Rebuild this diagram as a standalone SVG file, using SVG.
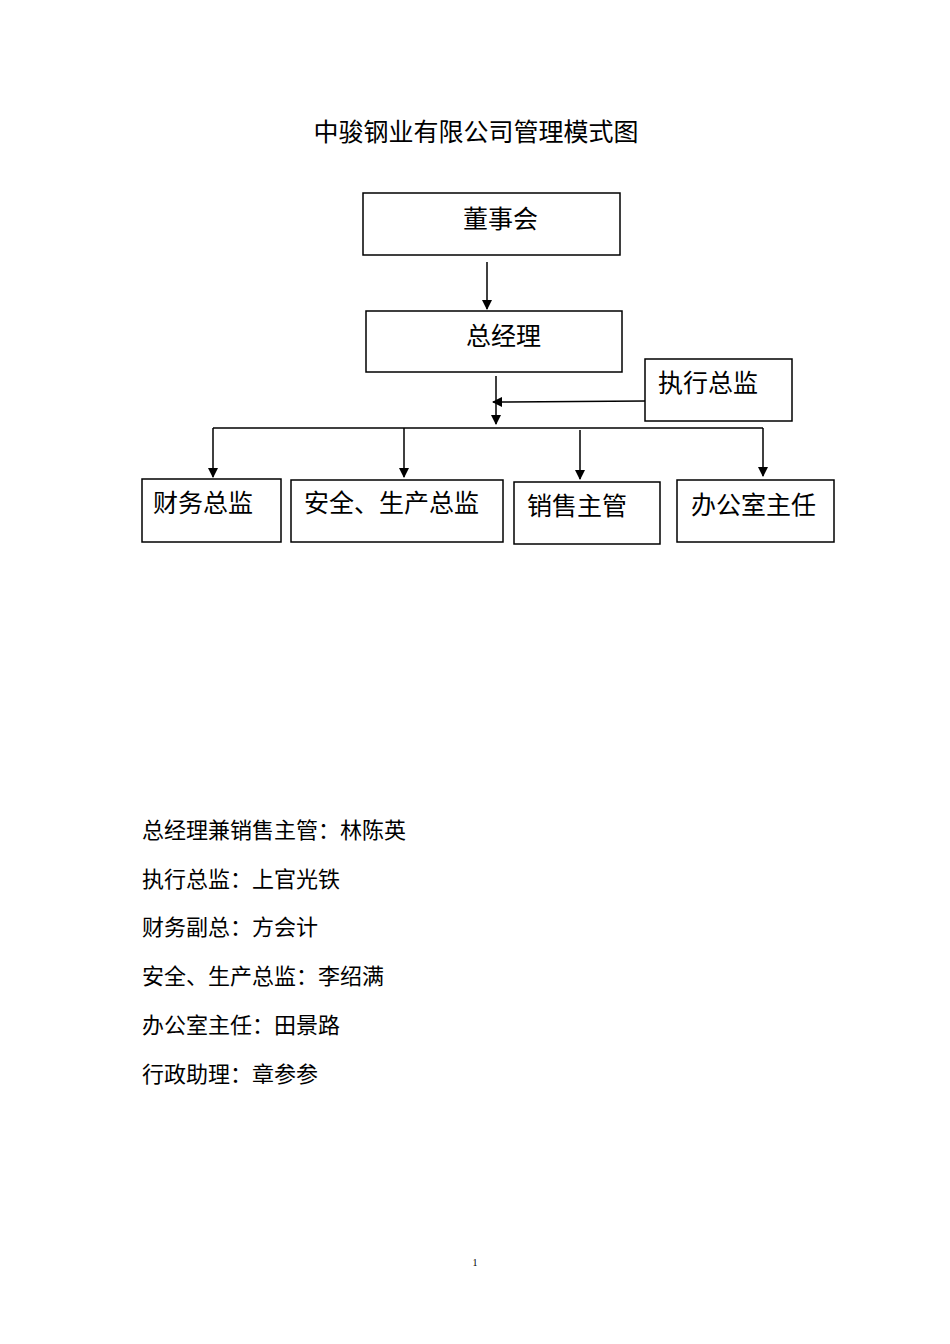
<svg xmlns="http://www.w3.org/2000/svg" width="950" height="1344" viewBox="0 0 950 1344">
<style>
text{font-family:"Liberation Serif","Noto Sans CJK SC",serif;fill:#000}
.box{fill:#fff;stroke:#000;stroke-width:1.5}
.t{font-size:25px}
.l{font-size:22px}
.c{stroke:#000;stroke-width:1.5;fill:none}
</style>
<defs><marker id="a" markerWidth="10" markerHeight="10" refX="9" refY="5" orient="auto" markerUnits="userSpaceOnUse"><path d="M0,0 L10,5 L0,10 z" fill="#000"/></marker></defs>
<rect width="950" height="1344" fill="#fff"/>
<text x="476" y="141" font-size="25" text-anchor="middle">中骏钢业有限公司管理模式图</text>
<g id="n1"><rect class="box" x="363" y="193" width="257" height="62"/><text class="t" x="463" y="228">董事会</text></g>
<g id="n2"><rect class="box" x="366" y="311" width="256" height="61"/><text class="t" x="466" y="345">总经理</text></g>
<g id="n3"><rect class="box" x="645" y="359" width="147" height="62"/><text class="t" x="658" y="392">执行总监</text></g>
<g id="n4"><rect class="box" x="142" y="479" width="139" height="63"/><text class="t" x="153" y="512">财务总监</text></g>
<g id="n5"><rect class="box" x="291" y="480" width="212" height="62"/><text class="t" x="304" y="512">安全、生产总监</text></g>
<g id="n6"><rect class="box" x="514" y="482" width="146" height="62"/><text class="t" x="527" y="515">销售主管</text></g>
<g id="n7"><rect class="box" x="677" y="480" width="157" height="62"/><text class="t" x="691" y="514">办公室主任</text></g>
<g id="connectors">
<line class="c" x1="487" y1="262" x2="487" y2="309" marker-end="url(#a)"/>
<line class="c" x1="496" y1="376" x2="496" y2="424" marker-end="url(#a)"/>
<line class="c" x1="645" y1="401" x2="493" y2="402" marker-end="url(#a)"/>
<line class="c" x1="213" y1="428" x2="763" y2="428"/>
<line class="c" x1="213" y1="428" x2="213" y2="477" marker-end="url(#a)"/>
<line class="c" x1="404" y1="428" x2="404" y2="477" marker-end="url(#a)"/>
<line class="c" x1="580" y1="430" x2="580" y2="479" marker-end="url(#a)"/>
<line class="c" x1="763" y1="428" x2="763" y2="476" marker-end="url(#a)"/>
</g>
<text class="l" x="142" y="838">总经理兼销售主管：林陈英</text>
<text class="l" x="142" y="887">执行总监：上官光铁</text>
<text class="l" x="142" y="935">财务副总：方会计</text>
<text class="l" x="142" y="984">安全、生产总监：李绍满</text>
<text class="l" x="142" y="1033">办公室主任：田景路</text>
<text class="l" x="142" y="1082">行政助理：章参参</text>
<text x="475" y="1266" font-size="10" text-anchor="middle">1</text>
</svg>
